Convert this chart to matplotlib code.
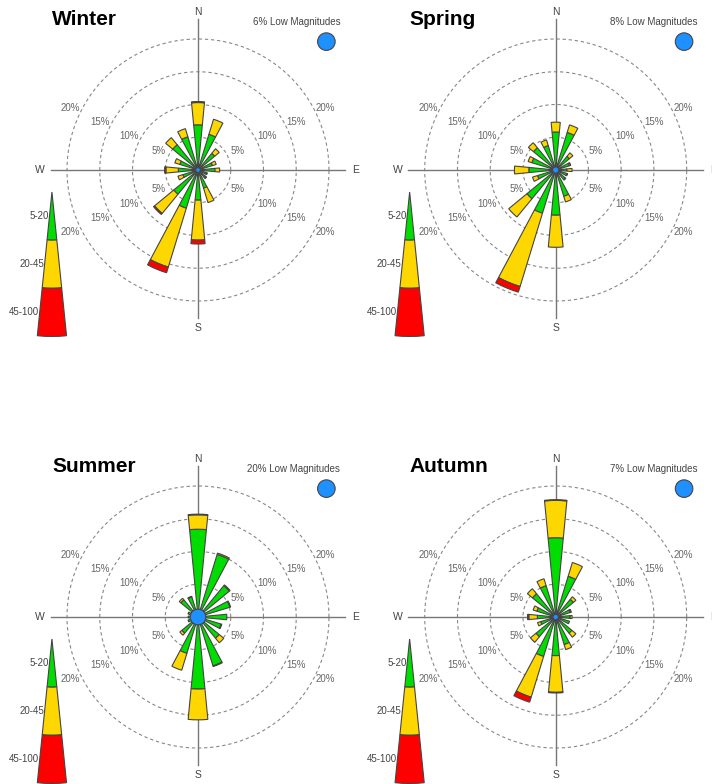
import numpy as np
import matplotlib
matplotlib.use('Agg')
import matplotlib.pyplot as plt
from matplotlib.patches import Wedge, Circle

plt.rcParams['font.family'] = ['Liberation Sans', 'DejaVu Sans']

SEASONS = ['Winter', 'Spring', 'Summer', 'Autumn']
LOW_MAGNITUDES = [6, 8, 20, 7]
SPEED_BINS = ['5-20', '20-45', '45-100']
BIN_COLORS = ['#00dd00', '#ffd700', '#ff0000']
RINGS = [5, 10, 15, 20]
COMPASS = ['N', 'E', 'S', 'W']

# compass directions, clockwise from N: N, NNE, NE, ... NNW
DIRECTIONS = [0, 22.5, 45, 67.5, 90, 112.5, 135, 157.5,
              180, 202.5, 225, 247.5, 270, 292.5, 315, 337.5]

# percent of observations in each direction, per speed bin
WINTER_5_20 = [6.9, 5.7, 3.3, 2.3, 2.6, 1.3, 1.5, 2.9, 4.6, 6.1, 4.8, 2.4, 3.0, 2.9, 5.0, 5.3]
WINTER_20_45 = [3.4, 2.4, 0.9, 0.6, 0.7, 0.2, 0.2, 2.3, 6.1, 9.4, 3.8, 0.8, 1.9, 0.8, 1.4, 1.3]
WINTER_45_100 = [0.15, 0, 0, 0, 0, 0, 0, 0, 0.6, 0.9, 0.2, 0, 0.2, 0, 0, 0]

SPRING_5_20 = [5.8, 6.0, 2.7, 2.2, 1.7, 1.8, 1.9, 4.2, 6.9, 6.9, 5.7, 2.9, 4.1, 3.8, 4.4, 3.9]
SPRING_20_45 = [1.5, 1.2, 0.7, 0.2, 0.8, 0.1, 0.1, 0.9, 4.9, 11.7, 3.6, 0.8, 2.2, 0.6, 1.0, 0.9]
SPRING_45_100 = [0, 0, 0, 0, 0, 0, 0, 0, 0, 0.9, 0, 0, 0, 0, 0, 0]

SUMMER_5_20 = [13.4, 10.0, 6.2, 5.1, 4.4, 3.7, 4.2, 7.8, 11.0, 5.8, 3.2, 1.6, 1.5, 1.6, 3.4, 3.2]
SUMMER_20_45 = [2.2, 0.2, 0.15, 0.1, 0, 0.1, 0.9, 0.1, 4.7, 2.7, 0.4, 0, 0, 0, 0.3, 0.1]
SUMMER_45_100 = [0.1, 0, 0, 0, 0, 0, 0, 0, 0, 0, 0, 0, 0, 0, 0, 0]

AUTUMN_5_20 = [12.1, 6.5, 3.5, 2.3, 2.2, 2.2, 3.2, 4.4, 5.9, 6.3, 3.9, 2.4, 2.8, 3.0, 4.6, 5.0]
AUTUMN_20_45 = [5.7, 2.2, 0.5, 0.2, 0.3, 0, 0.8, 0.8, 5.6, 6.5, 1.1, 0.5, 1.3, 0.6, 1.0, 1.1]
AUTUMN_45_100 = [0.1, 0, 0, 0, 0, 0, 0, 0, 0.1, 0.8, 0, 0, 0.2, 0, 0, 0]

SEASON_DATA = [
    [WINTER_5_20, WINTER_20_45, WINTER_45_100],
    [SPRING_5_20, SPRING_20_45, SPRING_45_100],
    [SUMMER_5_20, SUMMER_20_45, SUMMER_45_100],
    [AUTUMN_5_20, AUTUMN_20_45, AUTUMN_45_100],
]

W, H = 712, 784
PX_PER_PCT = 6.55
HALF = 200  # half size of each panel box in pixels
CENTERS = [(198, 170), (555.7, 170), (198, 617), (555.7, 617)]
EDGE = '#444444'
PETAL_HALF = 5.5  # degrees

fig = plt.figure(figsize=(W / 100, H / 100), dpi=100)
lim = HALF / PX_PER_PCT


def draw_rose(ax, name, bins, low):
    # grid rings
    t = np.linspace(0, 2 * np.pi, 361)
    for r in RINGS:
        ax.plot(r * np.cos(t), r * np.sin(t), color='#888888', lw=0.8,
                dashes=(3, 2.5), zorder=1)
        a = np.deg2rad(26)
        rr = r + 1.7
        for sx in (-1, 1):
            for sy in (-1, 1):
                ax.text(sx * rr * np.cos(a), sy * rr * np.sin(a), '%d%%' % r,
                        ha='center', va='center', fontsize=7, color='#666666')
    ax.plot([-22.5, 22.5], [0, 0], color='#777777', lw=1.0, zorder=1)
    ax.plot([0, 0], [-22.6, 23.0], color='#777777', lw=1.0, zorder=1)
    for k, lab in enumerate(COMPASS):
        ang = np.deg2rad(90 - 90 * k)
        ax.text(24.1 * np.cos(ang), 24.1 * np.sin(ang), lab, ha='center',
                va='center', fontsize=7.5, color='#444444')

    # petals
    for i, d in enumerate(DIRECTIONS):
        base = 0.0
        for b, vals in enumerate(bins):
            v = vals[i]
            if v <= 0:
                continue
            top = base + v
            w = Wedge((0, 0), top, 90 - d - PETAL_HALF, 90 - d + PETAL_HALF,
                      width=(v if base > 0 else None), facecolor=BIN_COLORS[b],
                      edgecolor=EDGE, lw=0.8, zorder=3)
            ax.add_patch(w)
            base = top

    # low magnitudes in the centre
    ax.add_patch(Circle((0, 0), 0.06 * low, facecolor='#1e90ff',
                        edgecolor=EDGE, lw=0.8, zorder=4))
    ax.add_patch(Circle((19.6, 19.6), 1.34, facecolor='#1e90ff',
                        edgecolor=EDGE, lw=0.8, zorder=4))
    ax.text(21.7, 22.6, '%d%% Low Magnitudes' % low, ha='right', va='center',
            fontsize=7, color='#444444')
    ax.text(-22.3, 23.0, name, ha='left', va='center', fontsize=15,
            fontweight='bold', color='black')

    # speed legend
    apex = (-22.3, -3.36)
    seg = 7.35
    for b, lab in enumerate(SPEED_BINS):
        w = Wedge(apex, seg * (b + 1), 270 - 5.8, 270 + 5.8,
                  width=(seg if b > 0 else None), facecolor=BIN_COLORS[b],
                  edgecolor=EDGE, lw=0.8, zorder=3)
        ax.add_patch(w)
        rm = seg * (b + 0.5)
        xl = apex[0] - rm * np.tan(np.deg2rad(5.8)) - 0.1
        ax.text(xl, apex[1] - rm, lab, ha='right', va='center',
                fontsize=7, color='#444444', zorder=5)


for n, name in enumerate(SEASONS):
    cx, cy = CENTERS[n]
    ax = fig.add_axes([(cx - HALF) / W, (H - cy - HALF) / H,
                       2 * HALF / W, 2 * HALF / H])
    ax.set_xlim(-lim, lim)
    ax.set_ylim(-lim, lim)
    ax.axis('off')
    draw_rose(ax, name, SEASON_DATA[n], LOW_MAGNITUDES[n])

fig.savefig('out.png', dpi=100)
